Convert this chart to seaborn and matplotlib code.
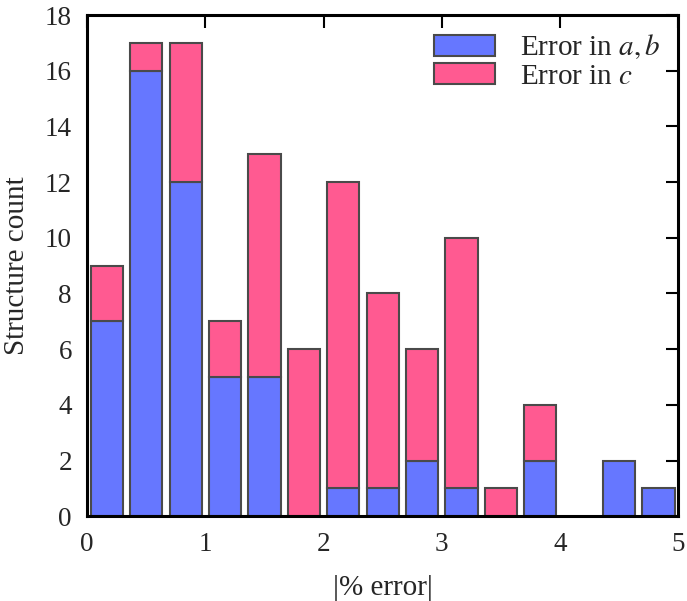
import numpy as np
import pandas as pd
import matplotlib
matplotlib.use("Agg")
import matplotlib.pyplot as plt
import seaborn as sns
from matplotlib.patches import Patch

# 15 bins from 0 to 5 in |% error|
bin_edges = np.linspace(0, 5, 16)
bin_centers = (bin_edges[:-1] + bin_edges[1:]) / 2
count_ab = [7, 16, 12, 5, 5, 0, 1, 1, 2, 1, 0, 2, 0, 2, 1]
count_c = [2, 1, 5, 2, 8, 6, 11, 7, 4, 9, 1, 2, 0, 0, 0]

blue = "#6677ff"
pink = "#ff5a91"
edge = "#4a4a4a"

df = pd.DataFrame({
    "err": np.concatenate([bin_centers, bin_centers]),
    "n": count_ab + count_c,
    "kind": ["ab"] * 15 + ["c"] * 15,
})

sns.set_style("white")
plt.rcParams["font.family"] = ["Liberation Serif", "DejaVu Serif"]
plt.rcParams["mathtext.fontset"] = "stix"

fig = plt.figure(figsize=(6.87, 6.01), dpi=100)
ax = fig.add_axes([0.127, 0.141, 0.86, 0.834])

sns.histplot(data=df, x="err", weights="n", hue="kind", hue_order=["c", "ab"],
             multiple="stack", bins=15, binrange=(0, 5), shrink=0.82,
             palette={"ab": blue, "c": pink}, alpha=1,
             edgecolor=edge, linewidth=1.5, legend=False, ax=ax)

# empty bins leave a flat outline on the axis; hide them
for p in ax.patches:
    if p.get_height() == 0:
        p.set_visible(False)

ax.set_xlim(0, 5)
ax.set_ylim(0, 18)
ax.set_xticks(range(0, 6))
ax.set_yticks(range(0, 19, 2))
ax.set_xlabel("|% error|", fontsize=21, labelpad=13)
ax.set_ylabel("Structure count", fontsize=21, labelpad=11)
ax.tick_params(direction="in", top=True, right=True, length=9, width=1.5,
               labelsize=19.5, pad=11, color="black")
for s in ax.spines.values():
    s.set_visible(True)
    s.set_linewidth(2.2)
    s.set_color("black")

handles = [Patch(facecolor=blue, edgecolor=edge, linewidth=1.5, label="Error in $a, b$"),
           Patch(facecolor=pink, edgecolor=edge, linewidth=1.5, label="Error in $c$")]
ax.legend(handles=handles, loc="upper right", frameon=False, fontsize=21,
          handlelength=2.1, handleheight=0.75, labelspacing=0.05,
          handletextpad=0.85, borderaxespad=0.2)

fig.savefig("out.png", dpi=100)
